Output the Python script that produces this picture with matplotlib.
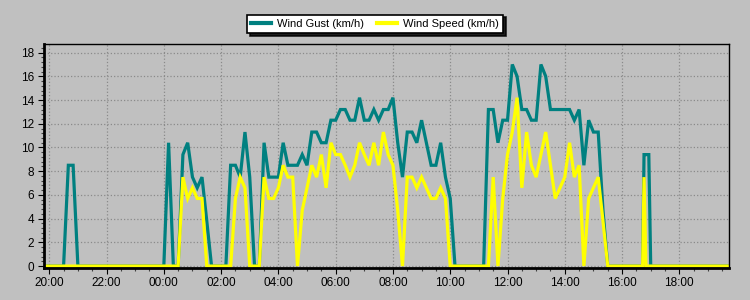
import matplotlib
matplotlib.use("Agg")
import matplotlib.pyplot as plt
import matplotlib.dates as mdates
from matplotlib.ticker import MultipleLocator
import pandas as pd

# readings (runs of zeros only keep their end points)
clock = [
    "19:50", "20:30", "20:40", "20:50", "21:00",
    "00:00", "00:10", "00:20", "00:30", "00:40", "00:50", "01:00", "01:10",
    "01:20", "01:30", "01:40", "02:10", "02:20", "02:30", "02:40", "02:50",
    "03:00", "03:10", "03:20", "03:30", "03:40", "03:50", "04:00", "04:10",
    "04:20", "04:30", "04:40", "04:50", "05:00", "05:10", "05:20", "05:30",
    "05:40", "05:50", "06:00", "06:10", "06:20", "06:30", "06:40", "06:50",
    "07:00", "07:10", "07:20", "07:30", "07:40", "07:50", "08:00", "08:10",
    "08:20", "08:30", "08:40", "08:50", "09:00", "09:10", "09:20", "09:30",
    "09:40", "09:50", "10:00", "10:10", "11:10", "11:20", "11:30", "11:40",
    "11:50", "12:00", "12:10", "12:20", "12:30", "12:40", "12:50", "13:00",
    "13:10", "13:20", "13:30", "13:40", "13:50", "14:00", "14:10", "14:20",
    "14:30", "14:40", "14:50", "15:00", "15:10", "15:20", "15:30",
    "16:43", "16:46", "16:50", "16:56", "16:58", "17:00", "19:50",
]
gust = [
    0, 0, 8.5, 8.5, 0,
    0, 10.4, 0, 0, 9.4, 10.4, 7.5, 6.6,
    7.5, 3.8, 0, 0, 8.5, 8.5, 7.5, 11.3,
    7.5, 0, 0, 10.4, 7.5, 7.5, 7.5, 10.4,
    8.5, 8.5, 8.5, 9.4, 8.5, 11.3, 11.3, 10.4,
    10.4, 12.3, 12.3, 13.2, 13.2, 12.3, 12.3, 14.2,
    12.3, 12.3, 13.2, 12.3, 13.2, 13.2, 14.2, 10.4,
    7.5, 11.3, 11.3, 10.4, 12.3, 10.4, 8.5, 8.5,
    10.4, 7.5, 5.7, 0, 0, 13.2, 13.2, 10.4,
    12.3, 12.3, 17.0, 16.0, 13.2, 13.2, 12.3, 12.3,
    17.0, 16.0, 13.2, 13.2, 13.2, 13.2, 13.2, 12.3,
    13.2, 8.5, 12.3, 11.3, 11.3, 4.7, 0,
    0, 9.4, 9.4, 9.4, 4.7, 0, 0,
]
speed = [
    0, 0, 0, 0, 0,
    0, 0, 0, 0, 7.5, 5.7, 6.6, 5.7,
    5.7, 0, 0, 0, 0, 5.7, 7.5, 6.6,
    0, 0, 0, 7.5, 5.7, 5.7, 6.6, 8.5,
    7.5, 7.5, 0, 4.7, 6.6, 8.5, 7.5, 9.4,
    6.6, 10.4, 9.4, 9.4, 8.5, 7.5, 8.5, 10.4,
    9.4, 8.5, 10.4, 8.5, 11.3, 9.4, 8.5, 4.7,
    0, 7.5, 7.5, 6.6, 7.5, 6.6, 5.7, 5.7,
    6.6, 5.7, 0, 0, 0, 0, 7.5, 0,
    5.7, 9.4, 11.3, 14.2, 6.6, 11.3, 8.5, 7.5,
    9.4, 11.3, 8.5, 5.7, 6.6, 7.5, 10.4, 7.5,
    8.5, 0, 5.7, 6.6, 7.5, 3.8, 0,
    0, 7.5, 0, 0, 0, 0, 0,
]

# clock times run past midnight, roll the day over when they go back
times = []
day = pd.Timestamp("2024-01-01")
prev = None
for c in clock:
    t = day + pd.Timedelta(c + ":00")
    if prev is not None and t < prev:
        day += pd.Timedelta(days=1)
        t += pd.Timedelta(days=1)
    times.append(t)
    prev = t

bg = "#c0c0c0"
plt.rcParams["font.family"] = ["Liberation Sans", "DejaVu Sans"]

fig = plt.figure(figsize=(7.5, 3.0), dpi=100, facecolor=bg)
ax = fig.add_axes([44 / 750, 1 - 267.5 / 300, 685 / 750, 223.2 / 300])
ax.set_facecolor(bg)

ax.plot(times, gust, color="#008080", lw=2.3, label="Wind Gust (km/h)",
        solid_joinstyle="miter")
ax.plot(times, speed, color="#ffff00", lw=2.3, label="Wind Speed (km/h)",
        solid_joinstyle="miter")

ax.set_xlim(pd.Timestamp("2024-01-01 19:49"), pd.Timestamp("2024-01-02 19:44"))
ax.set_ylim(-0.12, 18.7)

ax.xaxis.set_major_locator(mdates.HourLocator(byhour=range(0, 24, 2)))
ax.xaxis.set_major_formatter(mdates.DateFormatter("%H:%M"))
ax.xaxis.set_minor_locator(mdates.MinuteLocator(byminute=[0, 30]))
ax.yaxis.set_major_locator(MultipleLocator(2))
ax.yaxis.set_minor_locator(MultipleLocator(0.4))

ax.tick_params(which="major", length=4, width=0.8, colors="black", labelsize=8.5,
               pad=3)
ax.tick_params(which="minor", length=2.5, width=0.8, colors="#404040")
ax.grid(which="major", linestyle=":", color="#8a8a8a", linewidth=0.9)

for side in ["top", "right"]:
    ax.spines[side].set_linewidth(1.0)
for side in ["left", "bottom"]:
    ax.spines[side].set_linewidth(2.0)

leg = fig.legend(loc="upper center", bbox_to_anchor=(0.5, 1 - 9 / 300), ncol=2,
                 fontsize=8, frameon=True, fancybox=False, edgecolor="black",
                 facecolor="white", framealpha=1, handlelength=1.8,
                 handletextpad=0.5, columnspacing=1.2, borderpad=0.4,
                 shadow={"color": "black", "alpha": 0.85})
leg.get_frame().set_linewidth(1.2)
for h in leg.get_lines():
    h.set_linewidth(3)

fig.savefig("out.png", dpi=100, facecolor=bg)
